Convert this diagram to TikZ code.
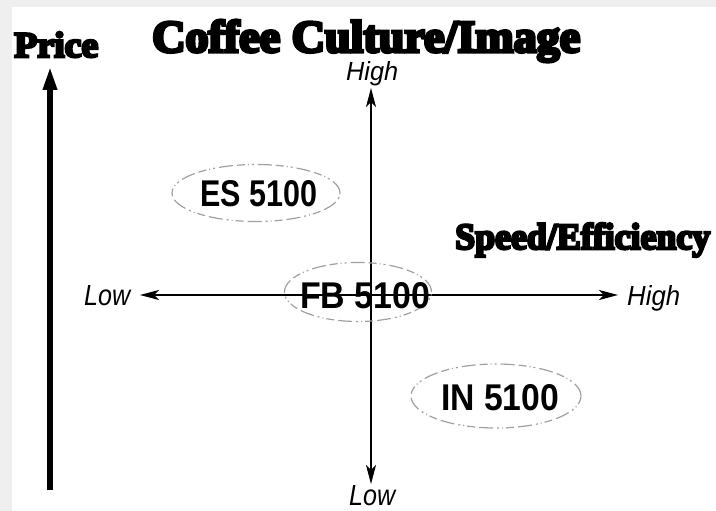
\documentclass[tikz,border=0pt]{standalone}
\usepackage{fontspec}
\setmainfont{Liberation Sans}
\newfontfamily\heavy{Liberation Serif}[UprightFont={* Bold}, FakeBold=7]
\usetikzlibrary{arrows.meta,shapes.geometric}
\definecolor{bggray}{HTML}{EFEFEF}
\definecolor{ringgray}{HTML}{A0A0A0}
\newcommand{\fitto}[3]{\resizebox{#1pt}{#2pt}{#3}}
\tikzset{
  lbl/.style={inner sep=0pt, anchor=base west},
  ring/.style={draw=ringgray, line width=1.2pt, ellipse, inner sep=0pt,
    dash pattern=on 14pt off 4pt on 2pt off 3pt on 1pt off 3pt on 8pt off 4pt},
  axis/.style={line width=1.4pt,
    {Stealth[length=19pt,width=10pt,inset=5pt]}-{Stealth[length=19pt,width=10pt,inset=5pt]}},
  pricearrow/.style={line width=6pt, -{Triangle[length=24pt,width=13pt]}}
}
\begin{document}
\begin{tikzpicture}[x=1pt,y=-1pt]
\useasboundingbox (0,0) rectangle (716,511);
\fill[bggray] (0,0) rectangle (716,511);
\fill[white] (12,7) rectangle (716,511);

% titles
\node[lbl] (title) at (152,52) {\fitto{428}{32}{\heavy Coffee Culture/Ima\smash{g}e}};
\node[lbl] (price) at (14,57) {\fitto{84}{25}{\heavy Price}};
\node[lbl] (speed) at (455,249) {\fitto{255}{26}{\heavy Speed/Efficiency}};

% price arrow
\coordinate (pbot) at (50,490);
\coordinate (ptop) at (50,66);
\draw[pricearrow] (pbot) -- (ptop);

% axes
\coordinate (vtop) at (371,88);
\coordinate (vbot) at (371,484);
\coordinate (hleft) at (140,295);
\coordinate (hright) at (618,295);
\draw[axis] (vbot) -- (vtop);
\draw[axis] (hleft) -- (hright);

% axis labels
\node[lbl] (hightop) at (346,81) {\fitto{52}{19}{\itshape High}};
\node[lbl] (lowbot) at (349,505) {\fitto{46}{20}{\itshape Low}};
\node[lbl] (lowleft) at (84,305) {\fitto{46}{20}{\itshape Low}};
\node[lbl] (highright) at (627,305) {\fitto{53}{20}{\itshape High}};

% product ellipses
\node[ring, minimum width=168pt, minimum height=57pt] (esring) at (256,193) {};
\node[lbl] (es) at (200,207) {\fitto{117}{26}{\bfseries ES 5100}};

\node[ring, minimum width=147pt, minimum height=59pt] (fbring) at (358,292) {};
\node[lbl] (fb) at (300,308) {\fitto{130}{26}{\bfseries FB 5100}};

\node[ring, minimum width=170pt, minimum height=64pt] (inring) at (496,396) {};
\node[lbl] (in) at (441,410) {\fitto{118}{26}{\bfseries IN 5100}};
\end{tikzpicture}
\end{document}
